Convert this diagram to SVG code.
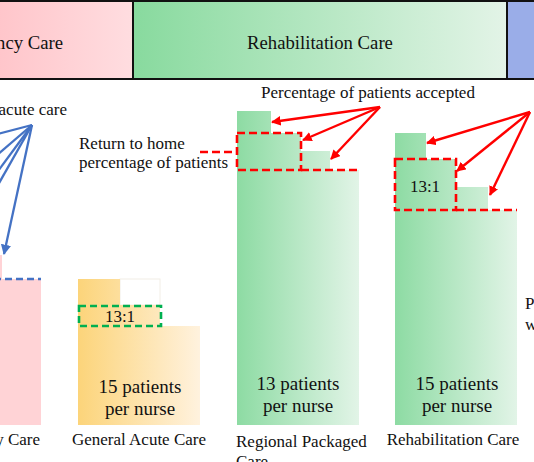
<svg xmlns="http://www.w3.org/2000/svg" width="534" height="462" viewBox="0 0 534 462">
<style>
.hd{font-size:18.7px;text-anchor:middle}
.lb{font-size:17px}
.nm{font-size:19px;text-anchor:middle}
.rt{font-size:17px;text-anchor:middle}
.rdash{fill:none;stroke:#FF0000;stroke-width:2.6;stroke-dasharray:8 4}
.gdash{fill:none;stroke:#00B050;stroke-width:2.6;stroke-dasharray:7 4}
.bdash{fill:none;stroke:#4472C4;stroke-width:2.6;stroke-dasharray:7 4}
.ra{stroke:#FF0000;stroke-width:2.4;fill:none;marker-end:url(#ah-r)}
.ba{stroke:#4472C4;stroke-width:2.3;fill:none}
.faint{fill:none;stroke:#F2EEE6;stroke-width:1}
</style>
<defs>
<linearGradient id="gHeadPink" gradientUnits="userSpaceOnUse" x1="-140" y1="0" x2="133" y2="0"><stop offset="0" stop-color="#FFADB4"/><stop offset="1" stop-color="#FFDDE0"/></linearGradient>
<linearGradient id="gHeadGreen" gradientUnits="userSpaceOnUse" x1="133" y1="0" x2="507" y2="0"><stop offset="0" stop-color="#88DA9E"/><stop offset="1" stop-color="#E3F4E7"/></linearGradient>
<linearGradient id="gG1" gradientUnits="userSpaceOnUse" x1="237" y1="0" x2="359" y2="0"><stop offset="0" stop-color="#8DDBA3"/><stop offset="1" stop-color="#E2F4E7"/></linearGradient>
<linearGradient id="gG2" gradientUnits="userSpaceOnUse" x1="395" y1="0" x2="517" y2="0"><stop offset="0" stop-color="#8DDBA3"/><stop offset="1" stop-color="#E2F4E7"/></linearGradient>
<linearGradient id="gY" gradientUnits="userSpaceOnUse" x1="78" y1="0" x2="200" y2="0"><stop offset="0" stop-color="#FCD47A"/><stop offset="1" stop-color="#FFF2DE"/></linearGradient>
<marker id="ah-r" viewBox="0 0 10 10" refX="9" refY="5" markerWidth="4" markerHeight="4" orient="auto" markerUnits="strokeWidth"><path d="M0,0 L10,5 L0,10 Z" fill="#FF0000"/></marker>
<marker id="ah-b" viewBox="0 0 10 10" refX="9" refY="5" markerWidth="4.5" markerHeight="4.5" orient="auto" markerUnits="strokeWidth"><path d="M0,0 L10,5 L0,10 Z" fill="#4472C4"/></marker>
</defs>
<g font-family="Liberation Serif, Times New Roman, serif" fill="#111">
<g id="header">
<rect x="-140" y="1" width="273" height="78" fill="url(#gHeadPink)" stroke="#111" stroke-width="2"/>
<rect x="133" y="1" width="374" height="78" fill="url(#gHeadGreen)" stroke="#111" stroke-width="2"/>
<rect x="507" y="1" width="40" height="78" fill="#9AADE8" stroke="#111" stroke-width="2"/>
<text class="hd" x="63" y="49" style="text-anchor:end">ncy Care</text>
<text class="hd" x="320" y="49">Rehabilitation Care</text>
</g>

<g id="emergency-bar">
<rect x="-10" y="255" width="12" height="24" fill="#FFD3D6"/>
<rect x="-10" y="279" width="51" height="146" fill="#FFD3D6"/>
<path class="bdash" d="M-6,279 H41"/>
<text class="lb" x="40" y="445" style="text-anchor:end">y Care</text>
</g>

<g id="general-acute">
<rect class="faint" x="120" y="279" width="40" height="26"/>
<path d="M78,279 H120 V305 H160 V326 H200 V425 H78 Z" fill="url(#gY)"/>
<rect class="gdash" x="79" y="306" width="82" height="20"/>
<text class="rt" x="120" y="322">13:1</text>
<text class="nm" x="140" y="393">15 patients</text>
<text class="nm" x="140" y="415">per nurse</text>
<text class="lb" x="139" y="445" style="text-anchor:middle">General Acute Care</text>
</g>

<g id="regional-packaged">
<path d="M237,111 H271 V133 H301 V151 H330 V170 H359 V425 H237 Z" fill="url(#gG1)"/>
<rect class="rdash" x="237" y="133" width="64" height="37"/>
<path class="rdash" d="M301,170 H359"/>
<text class="nm" x="298" y="390">13 patients</text>
<text class="nm" x="298" y="412">per nurse</text>
<text class="lb" x="236" y="447">Regional Packaged</text>
<text class="lb" x="236" y="467">Care</text>
</g>

<g id="rehabilitation">
<path d="M395,133 H426 V159 H456 V187 H488 V210 H517 V425 H395 Z" fill="url(#gG2)"/>
<rect class="rdash" x="395" y="159" width="61" height="51"/>
<path class="rdash" d="M456,210 H517"/>
<text class="rt" x="425" y="192">13:1</text>
<text class="nm" x="457" y="390">15 patients</text>
<text class="nm" x="457" y="412">per nurse</text>
<text class="lb" x="453" y="445" style="text-anchor:middle">Rehabilitation Care</text>
</g>

<g id="labels">
<text class="lb" x="67" y="115" style="text-anchor:end">acute care</text>
<text class="lb" x="79" y="149">Return to home</text>
<text class="lb" x="79" y="168">percentage of patients</text>
<text class="lb" x="368" y="98" style="text-anchor:middle">Percentage of patients accepted</text>
<text class="lb" x="525" y="309">P</text>
<text class="lb" x="525" y="330">w</text>
</g>

<g id="connectors">
<path class="ba" d="M32,125 L-10,136"/>
<path class="ba" d="M32,125 L-10,161"/>
<path class="ba" d="M32,125 L-10,182"/>
<path class="ba" d="M32,125 L-10,199"/>
<path class="ba" d="M32,125 L4,254" marker-end="url(#ah-b)"/>
<path class="rdash" d="M200,152 H236"/>
<path class="ra" d="M380,107 L272,122"/>
<path class="ra" d="M380,107 L303,140"/>
<path class="ra" d="M380,107 L331,159"/>
<path class="ra" d="M530,112 L427,143"/>
<path class="ra" d="M530,112 L457,171"/>
<path class="ra" d="M530,112 L490,195"/>
</g>
</g>
</svg>
